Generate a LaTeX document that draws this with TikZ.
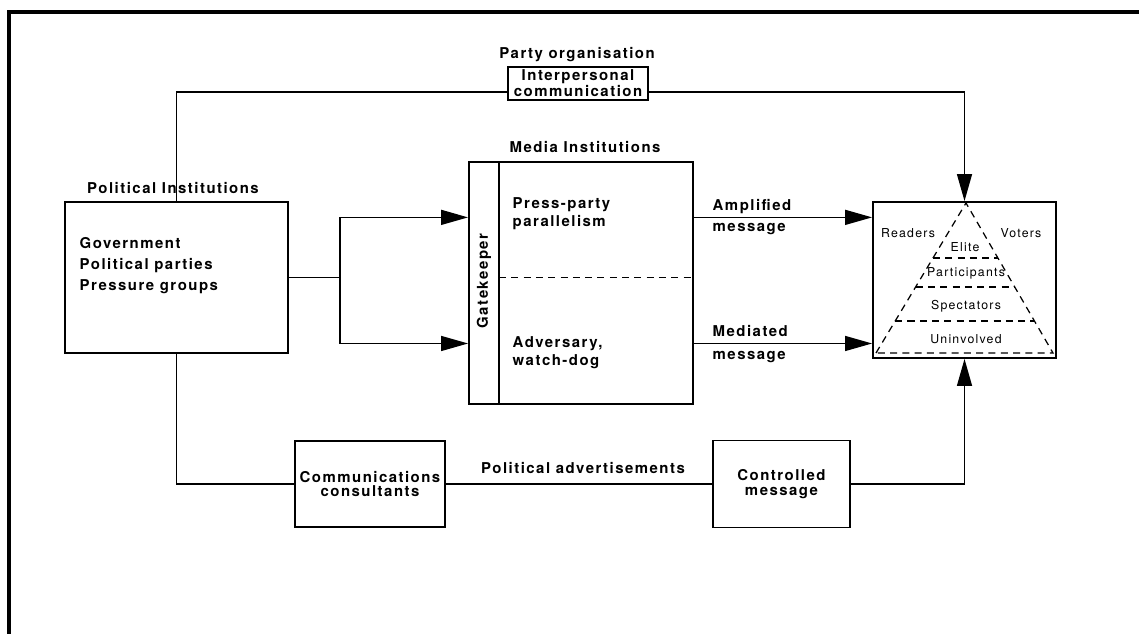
\documentclass[tikz,border=0pt]{standalone}
\usepackage{fontspec}
\setmainfont{TeX Gyre Heros}[LetterSpace=10]
\usetikzlibrary{arrows.meta,calc}

\tikzset{
  box/.style={draw, line width=1.1pt, inner sep=0pt, align=center},
  lbl/.style={font=\bfseries\fontsize{8.5}{9}\selectfont, inner sep=0pt},
  lvl/.style={font=\fontsize{7}{8}\selectfont, inner sep=0pt},
  arr/.style={-{Triangle[length=0.54cm,width=0.3cm]}},
}

\begin{document}
\begin{tikzpicture}[x=0.02cm, y=-0.02cm, line width=0.8pt]
    \useasboundingbox (0,0) rectangle (1139,634);
    \draw[line width=2pt] (1139,12) -- (9,12) -- (9,634);

    % political institutions
    \node[box, minimum width=4.46cm, minimum height=3.02cm] (pol) at (176.5,277.5) {};
    \node[lbl] (poltitle) at (173,188) {Political Institutions};
    \node[lbl, anchor=north west, align=left, font=\bfseries\fontsize{8.5}{12}\selectfont] (polmembers) at (79,237) {Government\\Political parties\\Pressure groups};

    % party organisation
    \node[box, minimum width=2.8cm, minimum height=0.66cm, font=\bfseries\fontsize{8.5}{7.5}\selectfont] (ip) at (578,83.5) {Interpersonal\\communication};
    \node[lbl] (party) at (577,55) {Party organisation};

    % media institutions
    \node[box, minimum width=4.48cm, minimum height=4.84cm] (media) at (581,283) {};
    \node[lbl] (mediatitle) at (585,147) {Media Institutions};
    \coordinate (gktop) at ($(media.north west)+(31,0)$);
    \coordinate (gkbot) at ($(media.south west)+(31,0)$);
    \draw[line width=1.1pt] (gktop) -- (gkbot);
    \node[lbl, rotate=90] (gate) at (484,281) {Gatekeeper};
    \coordinate (midl) at ($(gktop)!0.479!(gkbot)$);
    \coordinate (midr) at ($(media.north east)!0.479!(media.south east)$);
    \draw[dash pattern=on 4pt off 3pt, line width=0.6pt] (midl) -- (midr);
    \node[lbl, anchor=north west, align=left, font=\bfseries\fontsize{8.5}{10}\selectfont] (press) at (512,197) {Press-party\\parallelism};
    \node[lbl, anchor=north west, align=left, font=\bfseries\fontsize{8.5}{10}\selectfont] (advers) at (512,336) {Adversary,\\watch-dog};

    % audience pyramid
    \node[box, minimum width=3.66cm, minimum height=3.12cm] (pyr) at (964.5,280) {};
    \coordinate (apex) at (966,203);
    \coordinate (bl) at (876,353);
    \coordinate (br) at (1053,353);
    \draw[dash pattern=on 4pt off 3pt, line width=0.7pt] (bl) -- (apex) -- (br) -- cycle;
    \foreach \f in {0.367,0.56,0.787}
        \draw[dash pattern=on 4pt off 3pt, line width=0.7pt] ($(apex)!\f!(bl)$) -- ($(apex)!\f!(br)$);
    \node[lvl] (readers) at (908,233) {Readers};
    \node[lvl] (voters) at (1021,233) {Voters};
    \node[lvl] (elite) at (965,247) {Elite};
    \node[lvl] (partic) at (966,273) {Participants};
    \node[lvl] (spect) at (966,306) {Spectators};
    \node[lvl] (uninv) at (966,339) {Uninvolved};

    % consultants and controlled message
    \node[box, minimum width=3.0cm, minimum height=1.72cm, font=\bfseries\fontsize{8.5}{8.5}\selectfont] (cc) at (370,484) {Communications\\consultants};
    \node[box, minimum width=2.74cm, minimum height=1.74cm, font=\bfseries\fontsize{8.5}{8.5}\selectfont] (cm) at (781.5,484) {Controlled\\message};
    \node[lbl] (adverts) at (583,468) {Political advertisements};

    % connectors
    \draw (pol.north) |- ($(ip.west)+(0,8.5)$);
    \draw[arr] ($(ip.east)+(0,8.5)$) -| (pyr.north);

    \coordinate (fork) at (340,277.5);
    \draw (pol.east) -- (fork);
    \draw[arr] (fork) |- ($(media.north west)!0.231!(media.south west)$);
    \draw[arr] (fork) |- ($(media.north west)!0.748!(media.south west)$);

    \coordinate (amp) at ($(media.north east)!0.231!(media.south east)$);
    \coordinate (med) at ($(media.north east)!0.748!(media.south east)$);
    \draw[arr] (amp) -- (amp -| pyr.west);
    \draw[arr] (med) -- (med -| pyr.west);
    \node[lbl, anchor=west] (amptop) at (712,207) {Amplified};
    \node[lbl, anchor=west] (ampbot) at (712,229) {message};
    \node[lbl, anchor=west] (medtop) at (712,331) {Mediated};
    \node[lbl, anchor=west] (medbot) at (712,357) {message};

    \draw (pol.south) |- (cc.west);
    \draw (cc.east) -- (cm.west);
    \draw[arr] (cm.east) -| (pyr.south);
\end{tikzpicture}
\end{document}
